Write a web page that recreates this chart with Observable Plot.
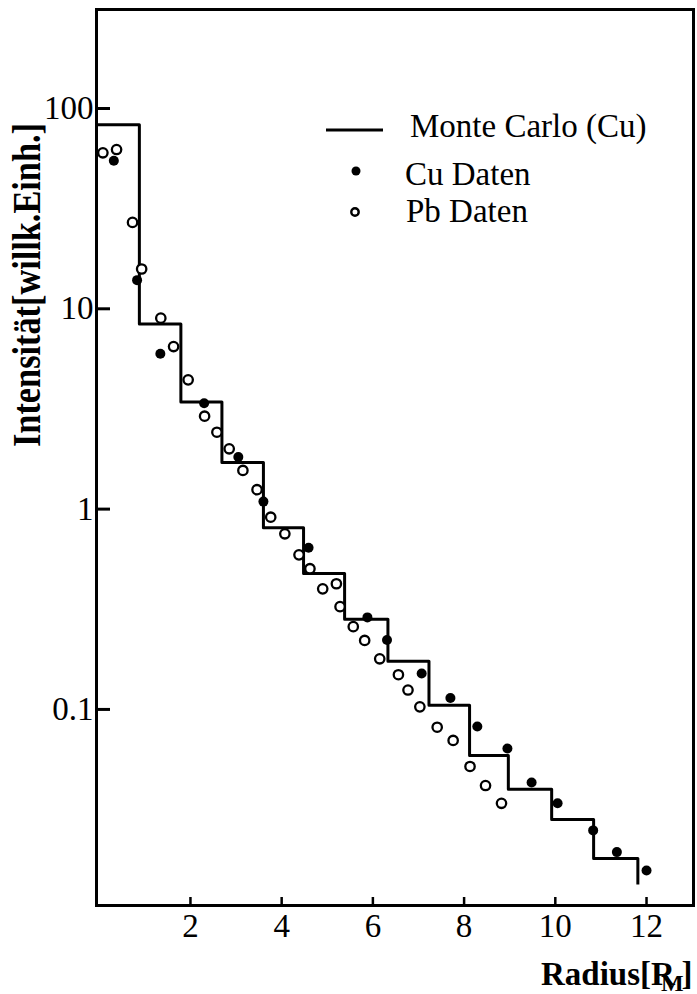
<!DOCTYPE html>
<html>
<head>
<meta charset="utf-8">
<script src="https://cdn.jsdelivr.net/npm/d3@7"></script>
<script src="https://cdn.jsdelivr.net/npm/@observablehq/plot@0.6"></script>
<style>
  html, body { margin: 0; padding: 0; background: #fff; }
  #chart svg { display: block; }
</style>
</head>
<body>
<div id="chart"></div>
<script>
// Monte Carlo (Cu) histogram: bin left edges and heights (last point = end of final bin drop)
const mcEdges  = [0, 0.88, 1.79, 2.69, 3.60, 4.48, 5.38, 6.33, 7.23, 8.12, 8.97, 9.92, 10.84, 11.81];
const mcValues = [83, 8.4, 3.43, 1.71, 0.807, 0.477, 0.282, 0.174, 0.105, 0.0589, 0.0399, 0.0282, 0.0180, 0.0136];

// Cu data (filled dots)
const cuX = [0.32, 0.83, 1.34, 2.30, 3.05, 3.60, 4.59, 5.88, 6.31, 7.07, 7.70, 8.29, 8.95, 9.48, 10.05, 10.83, 11.35, 12.00];
const cuY = [54.8, 13.9, 5.96, 3.38, 1.82, 1.09, 0.641, 0.288, 0.222, 0.151, 0.114, 0.0822, 0.0638, 0.0432, 0.0340, 0.0249, 0.0194, 0.0157];

// Pb data (open circles)
const pbX = [0.08, 0.38, 0.73, 0.93, 1.35, 1.63, 1.95, 2.31, 2.58, 2.85, 3.15, 3.46, 3.76, 4.07, 4.38, 4.62, 4.90, 5.20, 5.28, 5.57, 5.82, 6.15, 6.56, 6.77, 7.03, 7.41, 7.76, 8.13, 8.47, 8.82];
const pbY = [60.1, 62.4, 27.0, 15.8, 8.98, 6.48, 4.42, 2.91, 2.42, 2.00, 1.56, 1.25, 0.911, 0.753, 0.591, 0.504, 0.400, 0.424, 0.326, 0.259, 0.221, 0.179, 0.149, 0.125, 0.103, 0.0815, 0.070, 0.0519, 0.0417, 0.0340];

// Axis ticks
const xTicks = [2, 4, 6, 8, 10, 12];
const yTicks = [0.1, 1, 10, 100];
const yTickLabels = ["0.1", "1", "10", "100"];

// Legend & titles
const legendLabels = ["Monte Carlo (Cu)", "Cu Daten", "Pb Daten"];
const yTitle = "Intensität[willk.Einh.]";
const xTitleMain = "Radius[R";
const xTitleSub = "M";
const xTitleEnd = "]";

const mc = mcEdges.map((e, i) => ({x: e, y: mcValues[i]}));
const cu = cuX.map((x, i) => ({x, y: cuY[i]}));
const pb = pbX.map((x, i) => ({x, y: pbY[i]}));

const W = 697, H = 994;
const mL = 96, mR = 4, mT = 9, mB = 89;
const plotW = W - mL - mR, plotH = H - mT - mB;
const font = "'Liberation Serif', 'Times New Roman', serif";

const chart = Plot.plot({
  width: W,
  height: H,
  marginLeft: mL,
  marginRight: mR,
  marginTop: mT,
  marginBottom: mB,
  style: {fontFamily: font, fontSize: "33px", color: "#000", background: "#fff"},
  x: {domain: [-0.06, 13.03], ticks: xTicks, tickSize: 0, tickPadding: 8, label: null, tickFormat: d => String(d)},
  y: {type: "log", domain: [0.0105, 312], ticks: yTicks, tickSize: 0, tickPadding: 3, label: null,
      tickFormat: d => yTickLabels[yTicks.indexOf(d)]},
  marks: [
    Plot.tickY(yTicks, {y: d => d, insetRight: plotW - 14, stroke: "#000", strokeWidth: 3}),
    Plot.tickX(xTicks, {x: d => d, insetTop: plotH - 8, stroke: "#000", strokeWidth: 2.5}),
    Plot.line(mc, {x: "x", y: "y", curve: "step-after", stroke: "#000", strokeWidth: 3, strokeLinecap: "square"}),
    Plot.dot(cu, {x: "x", y: "y", r: 5, fill: "#000", stroke: "none"}),
    Plot.dot(pb, {x: "x", y: "y", r: 4.7, fill: "#fff", stroke: "#000", strokeWidth: 2.3}),
    Plot.frame({stroke: "#000", strokeWidth: 3})
  ]
});

document.getElementById("chart").appendChild(chart);

// Legend and axis titles added to the SVG
const svg = d3.select(chart);
const g = svg.append("g").attr("font-family", font).attr("fill", "#000").attr("text-anchor", "start");

g.append("line").attr("x1", 326).attr("x2", 383).attr("y1", 130).attr("y2", 130)
  .attr("stroke", "#000").attr("stroke-width", 3);
g.append("circle").attr("cx", 356).attr("cy", 171).attr("r", 4.5).attr("fill", "#000");
g.append("circle").attr("cx", 355).attr("cy", 212).attr("r", 3.7).attr("fill", "#fff")
  .attr("stroke", "#000").attr("stroke-width", 2.4);

const legendPos = [[410, 137], [405, 185], [406, 222]];
legendLabels.forEach((t, i) => {
  g.append("text").attr("x", legendPos[i][0]).attr("y", legendPos[i][1])
    .attr("text-anchor", "start")
    .attr("font-size", 33).text(t);
});

g.append("text")
  .attr("transform", "translate(40,285) rotate(-90)")
  .attr("text-anchor", "middle")
  .attr("font-weight", "bold")
  .attr("font-size", 39)
  .attr("textLength", 324)
  .attr("lengthAdjust", "spacingAndGlyphs")
  .text(yTitle);

const xt = g.append("text").attr("x", 541).attr("y", 985)
  .attr("text-anchor", "start")
  .attr("font-weight", "bold").attr("font-size", 33);
xt.append("tspan").text(xTitleMain);
xt.append("tspan").attr("dx", -14).attr("dy", 6).attr("font-size", 24).text(xTitleSub);
xt.append("tspan").attr("dx", -2).attr("dy", -6).text(xTitleEnd);
</script>
</body>
</html>
